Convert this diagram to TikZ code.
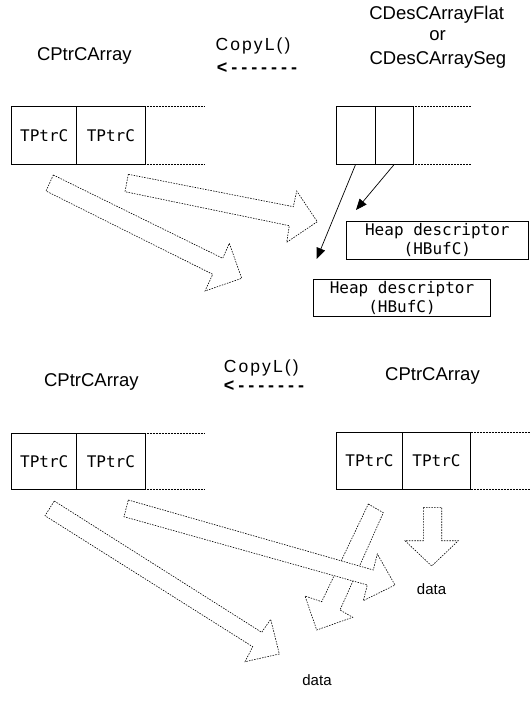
\documentclass[tikz,border=0pt]{standalone}
\usepackage{fontspec}
\setmainfont{Liberation Sans}
\newfontfamily\monof{DejaVu Sans Mono}
\newfontfamily\spacedf[LetterSpace=12]{Liberation Sans}
\newfontfamily\dashf[LetterSpace=22]{Liberation Sans}
\usetikzlibrary{arrows.meta}
\tikzset{
  cell/.style={draw, line width=0.8pt, inner sep=0pt, outer sep=0pt,
    font=\monof\fontsize{16}{16}\selectfont},
  heap/.style={draw, line width=0.8pt, inner sep=0pt, outer sep=0pt, align=center,
    font=\monof\fontsize{16}{19.5}\selectfont},
  lbl/.style={anchor=base, inner sep=0pt, font=\fontsize{18.5}{20}\selectfont},
  copyl/.style={anchor=base, inner sep=0pt, font=\spacedf\fontsize{17.5}{18}\selectfont},
  dashlbl/.style={anchor=center, inner sep=0pt, font=\dashf\bfseries\fontsize{18}{18}\selectfont},
  datalbl/.style={anchor=base, inner sep=0pt, font=\fontsize{15}{16}\selectfont},
  ellip/.style={densely dotted, line width=0.5pt},
  blockarrow/.style={draw, fill=white, line width=0.6pt, dash pattern=on 1.5pt off 1.2pt, line join=miter},
  ptr/.style={line width=0.7pt, -{Triangle[length=11pt,width=9pt]}}
}
\begin{document}
\begin{tikzpicture}[x=1pt,y=-1pt]
\useasboundingbox (0,0) rectangle (530,703);
\fill[white] (0,0) rectangle (530,703);

% ---------- top half ----------
\node[lbl] (t1) at (84.3,61) {CPtrCArray};
\node[copyl] (t2) at (253,50.8) {CopyL()};
\node[dashlbl] (t3) at (257,67.7) {<-------};
\node[lbl] (t4) at (436.7,19.3) {CDesCArrayFlat};
\node[lbl] (t5) at (437.5,40.6) {or};
\node[lbl] (t6) at (437.9,65) {CDesCArraySeg};

\node[cell, minimum width=65pt, minimum height=58pt] (a1) at (44.2,135.5) {TPtrC};
\node[cell, minimum width=68.3pt, minimum height=58pt] (a2) at (110.85,135.5) {TPtrC};
\draw[ellip] (a2.north east) -- ++(60,0);
\draw[ellip] (a2.south east) -- ++(60,0);

\node[cell, minimum width=39.3pt, minimum height=57.6pt] (b1) at (355.65,135.5) {};
\node[cell, minimum width=38pt, minimum height=57.6pt] (b2) at (394.3,135.5) {};
\draw[ellip] (b2.north east) -- ++(57.4,0);
\draw[ellip] (b2.south east) -- ++(57.4,0);

\node[heap, minimum width=182.7pt, minimum height=38pt] (hd1) at (437.35,240) {Heap descriptor\\(HBufC)};
\node[heap, minimum width=177.4pt, minimum height=37.7pt] (hd2) at (402,297.85) {Heap descriptor\\(HBufC)};

\coordinate (h1) at (316.7,259);
\coordinate (h2) at (356,210);
\draw[ptr] (b1.south) -- (h1);
\draw[ptr] (b2.south) -- (h2);

\path[blockarrow] (53.3,175) -- (222.7,258.3) -- (229.3,243.3) -- (241.7,278.3)
  -- (205,291) -- (212.7,274.3) -- (46,191) -- cycle;
\path[blockarrow] (128.3,174.3) -- (293.3,206.7) -- (296.7,191) -- (317.3,221.7)
  -- (286.7,242.3) -- (289.3,225.7) -- (125,191.7) -- cycle;

% ---------- bottom half ----------
\node[lbl] (u1) at (91.4,386.4) {CPtrCArray};
\node[copyl] (u2) at (261.2,372.1) {CopyL()};
\node[dashlbl] (u3) at (264,385.7) {<-------};
\node[lbl] (u4) at (432.5,380) {CPtrCArray};

\node[cell, minimum width=65pt, minimum height=56.5pt] (c1) at (44.2,461.2) {TPtrC};
\node[cell, minimum width=68.3pt, minimum height=56.5pt] (c2) at (110.85,461.2) {TPtrC};
\draw[ellip] (c2.north east) -- ++(59,0);
\draw[ellip] (c2.south east) -- ++(59,0);

\node[cell, minimum width=65.6pt, minimum height=56.6pt] (d1) at (369.5,461) {TPtrC};
\node[cell, minimum width=68.4pt, minimum height=56.6pt] (d2) at (436.5,461) {TPtrC};
\draw[ellip] (d2.north east) -- ++(59.3,0);
\draw[ellip] (d2.south east) -- ++(59.3,0);

% arrow C (under B)
\path[blockarrow] (368.3,504) -- (383.3,512.7) -- (340,610) -- (352.7,617.3)
  -- (316.7,630) -- (305,596) -- (321.7,601.7) -- cycle;
% arrow A
\path[blockarrow] (54.3,501) -- (261.7,632.3) -- (270.7,619.3) -- (279.3,654)
  -- (245,661.7) -- (252.7,646.7) -- (45,515.7) -- cycle;
% arrow B
\path[blockarrow] (128.3,500) -- (373.3,570) -- (377.3,554) -- (395,585)
  -- (363.3,600.7) -- (367.3,585) -- (124,516.7) -- cycle;
% arrow D
\path[blockarrow] (423.3,507.3) -- (441.7,507.3) -- (441.7,540.7) -- (458.3,540.7)
  -- (431.7,566) -- (405,540.7) -- (423.3,540.7) -- cycle;

\node[datalbl] (v1) at (431.5,594.3) {data};
\node[datalbl] (v2) at (317,685) {data};
\end{tikzpicture}
\end{document}
